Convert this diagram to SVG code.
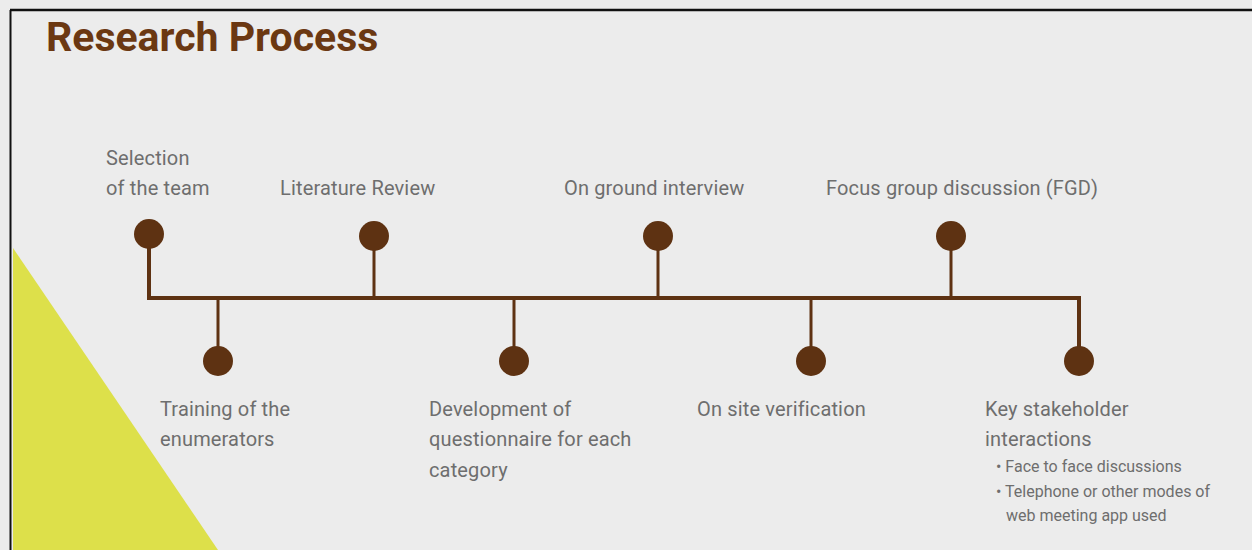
<svg xmlns="http://www.w3.org/2000/svg" width="1252" height="550" viewBox="0 0 1252 550">
  <style>
    .lbl { font-family: Roboto, "Liberation Sans", sans-serif; font-size: 20px; letter-spacing: 0.15px; fill: #6e6e6e; }
    .sub { font-family: Roboto, "Liberation Sans", sans-serif; font-size: 16px; fill: #6e6e6e; }
    .title { font-family: Roboto, "Liberation Sans", sans-serif; font-size: 41px; font-weight: bold; fill: #6b3812; }
    .stem { stroke: #5e3212; stroke-width: 3; fill: none; }
    .dot { fill: #5e3212; }
  </style>
  <rect x="0" y="0" width="1252" height="550" fill="#ececec"/>
  <!-- slide frame -->
  <line x1="10.5" y1="10" x2="10.5" y2="550" stroke="#111" stroke-width="2"/>
  <line x1="10" y1="10" x2="1252" y2="10" stroke="#111" stroke-width="2.5"/>
  <!-- accent triangle -->
  <polygon points="13,248 13,550 218,550" fill="#dde04a"/>
  <text class="title" x="46" y="51">Research Process</text>

  <g id="connectors">
    <polyline class="stem" points="149,234 149,298 1079,298 1079,361" style="stroke-width:4"/>
    <line class="stem" x1="218" y1="298" x2="218" y2="361"/>
    <line class="stem" x1="374" y1="236" x2="374" y2="298"/>
    <line class="stem" x1="514" y1="298" x2="514" y2="361"/>
    <line class="stem" x1="658" y1="236" x2="658" y2="298"/>
    <line class="stem" x1="811" y1="298" x2="811" y2="361"/>
    <line class="stem" x1="951" y1="236" x2="951" y2="298"/>
  </g>

  <g id="selection">
    <circle class="dot" cx="149" cy="234" r="15"/>
    <text class="lbl" x="106" y="165">Selection</text>
    <text class="lbl" x="106" y="195">of the team</text>
  </g>
  <g id="training">
    <circle class="dot" cx="218" cy="361" r="15"/>
    <text class="lbl" x="160" y="416">Training of the</text>
    <text class="lbl" x="160" y="446">enumerators</text>
  </g>
  <g id="literature">
    <circle class="dot" cx="374" cy="236" r="15"/>
    <text class="lbl" x="280" y="195">Literature Review</text>
  </g>
  <g id="questionnaire">
    <circle class="dot" cx="514" cy="361" r="15"/>
    <text class="lbl" x="429" y="416">Development of</text>
    <text class="lbl" x="429" y="446">questionnaire for each</text>
    <text class="lbl" x="429" y="477">category</text>
  </g>
  <g id="interview">
    <circle class="dot" cx="658" cy="236" r="15"/>
    <text class="lbl" x="564" y="195">On ground interview</text>
  </g>
  <g id="verification">
    <circle class="dot" cx="811" cy="361" r="15"/>
    <text class="lbl" x="697" y="416">On site verification</text>
  </g>
  <g id="fgd">
    <circle class="dot" cx="951" cy="236" r="15"/>
    <text class="lbl" x="826" y="195">Focus group discussion (FGD)</text>
  </g>
  <g id="stakeholder">
    <circle class="dot" cx="1079" cy="361" r="15"/>
    <text class="lbl" x="985" y="416">Key stakeholder</text>
    <text class="lbl" x="985" y="446">interactions</text>
    <text class="sub" x="996" y="472">• Face to face discussions</text>
    <text class="sub" x="996" y="497">• Telephone or other modes of</text>
    <text class="sub" x="1006" y="521">web meeting app used</text>
  </g>
</svg>
